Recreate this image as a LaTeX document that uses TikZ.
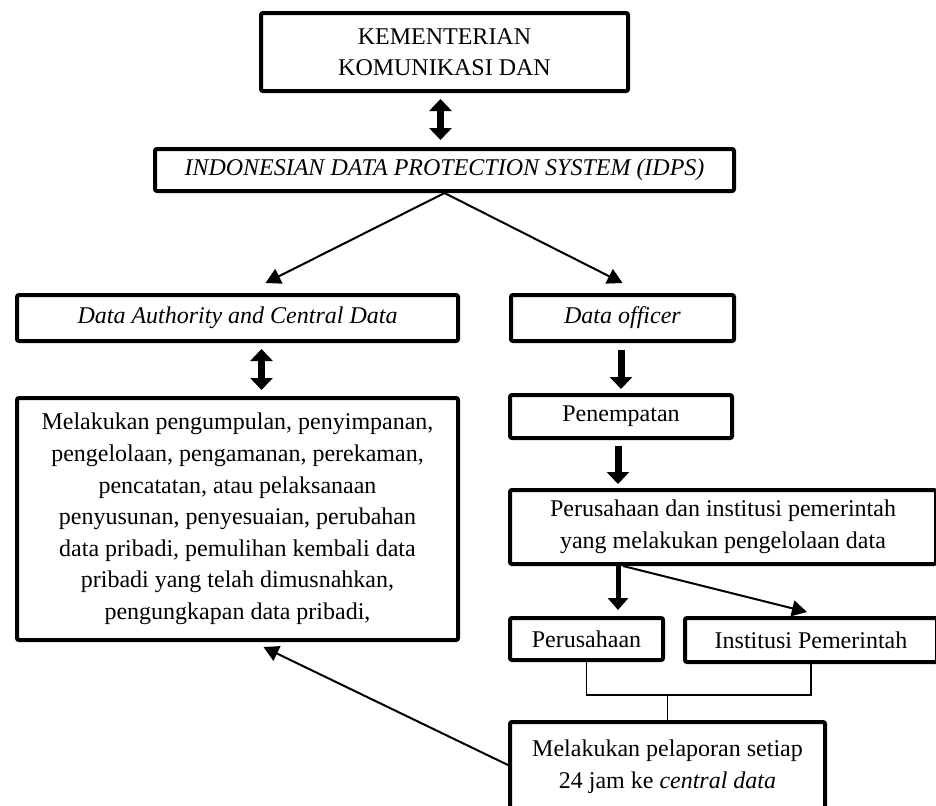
\documentclass[tikz,border=0pt]{standalone}
\usepackage{fontspec}
\setmainfont{Liberation Serif}
\usetikzlibrary{arrows.meta}

\begin{document}
\begin{tikzpicture}[x=0.5pt, y=-0.5pt,
					every node/.style = {shape=rectangle, rounded corners=1pt,
						draw, line width=2pt, align=center, inner sep=2pt,
					font=\fontsize{12}{15.8}\selectfont},
					fat/.style = {line width=3.5pt, -{Triangle[width=11pt,length=6pt]}},
					fatboth/.style = {line width=3.5pt, {Triangle[width=11pt,length=6pt]}-{Triangle[width=11pt,length=6pt]}},
					tip/.style = {line width=1pt, -{Triangle[width=8pt,length=7.5pt]}},
					link/.style = {line width=0.8pt}]
	\useasboundingbox (0,0) rectangle (936,805);
	% top
	\node (kom) at (444.5,52) [minimum width=183.5pt, minimum height=39pt] {KEMENTERIAN\\KOMUNIKASI DAN};
	\node (idps) at (444.5,170) [minimum width=289.5pt, minimum height=21pt] {\textit{INDONESIAN DATA PROTECTION SYSTEM (IDPS)}};
	% left
	\node (dac) at (237.5,318) [minimum width=220.5pt, minimum height=23pt] {\textit{Data Authority and Central Data}};
	\node (act) at (237.5,519) [minimum width=220.5pt, minimum height=121pt] {Melakukan pengumpulan, penyimpanan,\\
		pengelolaan, pengamanan, perekaman,\\ pencatatan, atau pelaksanaan\\
		penyusunan, penyesuaian, perubahan\\ data pribadi, pemulihan kembali data\\
		pribadi yang telah dimusnahkan,\\ pengungkapan data pribadi,};
	% right
	\node (dof) at (622.5,318) [minimum width=111.5pt, minimum height=23pt] {\textit{Data officer}};
	\node (pen) at (621,416.5) [minimum width=111pt, minimum height=21.5pt] {Penempatan};
	\node (pi) at (723,527) [minimum width=213pt, minimum height=37pt] {Perusahaan dan institusi pemerintah\\ yang melakukan pengelolaan data};
	\node (pru) at (586.5,639) [minimum width=76.5pt, minimum height=21pt] {Perusahaan};
	\node (inst) at (811,640) [minimum width=126pt, minimum height=22pt] {Institusi Pemerintah};
	\node (lap) at (667.5,767) [minimum width=157.5pt, minimum height=45pt] {Melakukan pelaporan setiap\\ 24 jam ke \textit{central data}};
	\coordinate (jn) at (667.5,695);

	\draw[fatboth] ([xshift=-2pt,yshift=-3pt]kom.south) -- ([xshift=-2pt,yshift=3.5pt]idps.north);
	\draw[tip] (idps.south) -- ([xshift=14pt,yshift=5pt]dac.north);
	\draw[tip] (idps.south) -- ([yshift=5pt]dof.north);
	\draw[fatboth] ([xshift=12pt,yshift=-3pt]dac.south) -- ([xshift=12pt,yshift=3pt]act.north);
	\draw[fat] ([yshift=-3.5pt]pen.north |- dof.south) -- ([yshift=2pt]pen.north);
	\draw[fat] ([xshift=-1.5pt,yshift=-3pt]pen.south) -- ([xshift=-1.5pt,yshift=2pt]pen.south |- pi.north);
	\draw[line width=2.5pt, -{Triangle[width=10pt,length=6pt]}] ([xshift=-1.5pt]pen.south |- pi.south) -- ([xshift=-1.5pt,yshift=3pt]pen.south |- pru.north);
	\draw[tip] ([xshift=1pt]pen.south |- pi.south) -- ([xshift=-2pt,yshift=2pt]inst.north);
	\draw[link] (pru.south) -- (pru.south |- jn) -- (inst.south |- jn) -- (inst.south);
	\draw[link] (jn) -- (lap.north);
	\draw[tip] ([yshift=1pt]lap.west) -- ([xshift=13pt,yshift=-2.5pt]act.south);
\end{tikzpicture}
\end{document}
